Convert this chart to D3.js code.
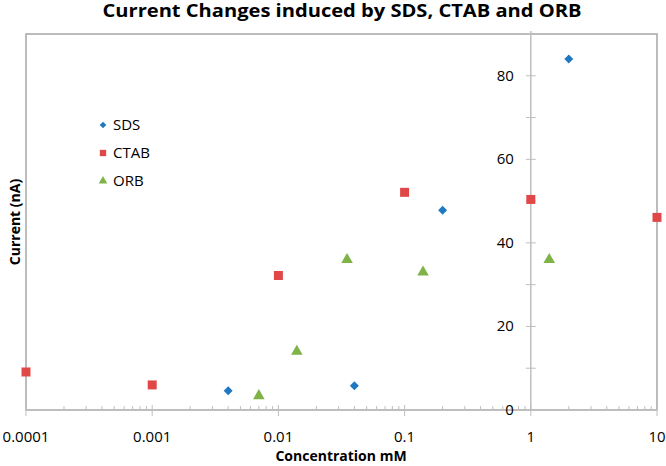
<!DOCTYPE html>
<html><head><meta charset="utf-8">
<script src="https://cdn.jsdelivr.net/npm/d3@7"></script>
<style>body{margin:0;background:#fff}svg{display:block}text{font-family:"Open Sans",sans-serif}</style>
</head><body><svg id="c" width="666" height="466"></svg>
<script>
const sdsX = [0.004, 0.04, 0.2, 2];
const sdsY = [4.6, 5.8, 47.8, 84];
const ctabX = [0.0001, 0.001, 0.01, 0.1, 1, 10];
const ctabY = [9.1, 6.0, 32.2, 52.1, 50.4, 46.1];
const orbX = [0.007, 0.014, 0.035, 0.14, 1.4];
const orbY = [3.4, 14, 36, 33, 36];
const xTickLabels = ["0.0001", "0.001", "0.01", "0.1", "1", "10"];
const yTickLabels = ["0", "20", "40", "60", "80"];
const seriesNames = ["SDS", "CTAB", "ORB"];
const colors = ["#1f78c1", "#e04848", "#7fb347"];

const svg = d3.select("#c");
const L = 26, R = 657, T = 34, B = 410;
const x = d3.scaleLog().domain([0.0001, 10]).range([L, R]);
const y = d3.scaleLinear().domain([0, 90]).range([B, T]);

// title
svg.append("text").attr("x", 342).attr("y", 17).attr("text-anchor", "middle")
  .attr("font-weight", "bold").attr("font-size", 17).attr("fill", "#000")
  .attr("textLength", 479).attr("lengthAdjust", "spacingAndGlyphs")
  .text("Current Changes induced by SDS, CTAB and ORB");

// plot border
svg.append("rect").attr("x", L).attr("y", T).attr("width", R - L).attr("height", B - T)
  .attr("fill", "none").attr("stroke", "#a6a6a6").attr("stroke-width", 1.5);

// x axis
const g = svg.append("g");
g.append("line").attr("x1", L).attr("x2", R).attr("y1", B).attr("y2", B)
  .attr("stroke", "#bfbfbf").attr("stroke-width", 1.5);
const minor = [];
for (let e = -4; e < 1; e++) for (let m = 2; m <= 9; m++) minor.push(m * Math.pow(10, e));
g.selectAll(".xm").data(minor).join("line")
  .attr("x1", d => x(d)).attr("x2", d => x(d)).attr("y1", B - 4).attr("y2", B)
  .attr("stroke", "#bfbfbf");
const major = xTickLabels.map(Number);
g.selectAll(".xM").data(major).join("line")
  .attr("x1", d => x(d)).attr("x2", d => x(d)).attr("y1", B - 5).attr("y2", B + 6)
  .attr("stroke", "#bfbfbf");
g.selectAll(".xl").data(xTickLabels).join("text")
  .attr("x", d => x(+d)).attr("y", 442).attr("text-anchor", "middle")
  .attr("font-size", 15).attr("fill", "#000").text(d => d);

// y axis at x=1
const ax = x(1);
g.append("line").attr("x1", ax).attr("x2", ax).attr("y1", T - 3).attr("y2", B)
  .attr("stroke", "#bfbfbf").attr("stroke-width", 1.5);
const yMinor = d3.range(10, 90, 20);
g.selectAll(".ym").data(yMinor).join("line")
  .attr("x1", ax - 5).attr("x2", ax + 5).attr("y1", d => y(d)).attr("y2", d => y(d))
  .attr("stroke", "#bfbfbf");
g.selectAll(".yM").data(yTickLabels.map(Number)).join("line")
  .attr("x1", ax - 5).attr("x2", ax + 5).attr("y1", d => y(d)).attr("y2", d => y(d))
  .attr("stroke", "#bfbfbf");
g.selectAll(".yl").data(yTickLabels).join("text")
  .attr("x", ax - 17).attr("y", d => y(+d) + 5).attr("text-anchor", "end")
  .attr("font-size", 15).attr("fill", "#000").text(d => d);

// axis titles
svg.append("text").attr("x", 341).attr("y", 461).attr("text-anchor", "middle")
  .attr("font-weight", "bold").attr("font-size", 14).attr("fill", "#000").text("Concentration mM");
svg.append("text").attr("transform", "translate(20,222) rotate(-90)").attr("text-anchor", "middle")
  .attr("font-weight", "bold").attr("font-size", 14).attr("fill", "#000").text("Current (nA)");

// markers
const sym = [d3.symbolSquare, d3.symbolSquare, d3.symbolTriangle];
const rot = [45, 0, 0];
const sizes = [40, 81, 58];
const data = [
  sdsX.map((v, i) => [v, sdsY[i]]),
  ctabX.map((v, i) => [v, ctabY[i]]),
  orbX.map((v, i) => [v, orbY[i]])
];
data.forEach((pts, s) => {
  svg.append("g").selectAll("path").data(pts).join("path")
    .attr("transform", d => `translate(${x(d[0])},${y(d[1])}) rotate(${rot[s]})`)
    .attr("d", d3.symbol(sym[s], sizes[s])).attr("fill", colors[s]);
});

// legend
const lg = svg.append("g");
seriesNames.forEach((n, i) => {
  const yy = 125 + i * 28;
  lg.append("path").attr("transform", `translate(103,${yy}) rotate(${rot[i]})`)
    .attr("d", d3.symbol(sym[i], [22, 40, 32][i])).attr("fill", colors[i]);
  lg.append("text").attr("x", 113).attr("y", yy + 5).attr("font-size", 15)
    .attr("fill", "#000").text(n);
});
</script></body></html>
